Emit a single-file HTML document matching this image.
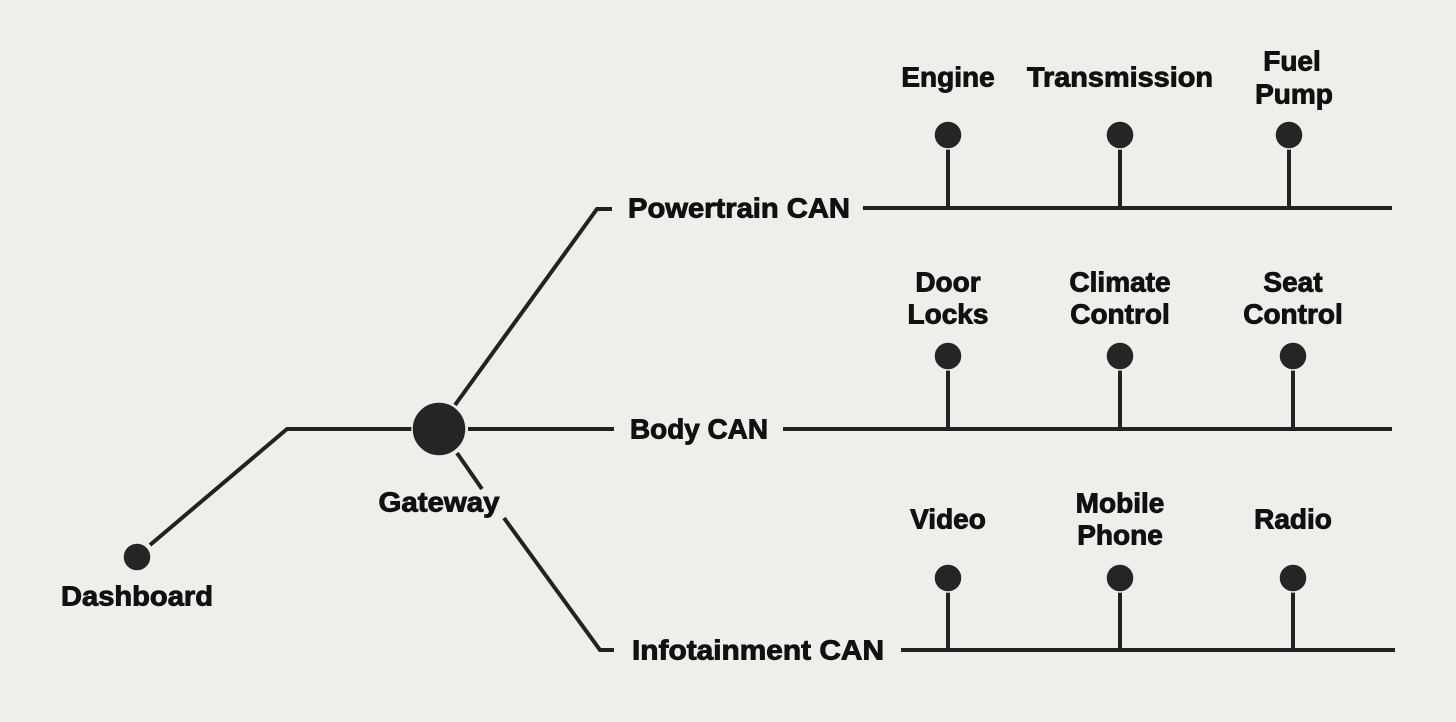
<!DOCTYPE html>
<html><head><style>
html,body{margin:0;padding:0;background:#efeeea;}
svg text{font-family:"Liberation Sans",sans-serif;font-weight:bold;font-size:28px;fill:#111;stroke:#111;stroke-width:0.9;text-anchor:middle;dominant-baseline:central;}
</style></head><body>
<svg width="1456" height="717" viewBox="0 0 1456 717" xmlns="http://www.w3.org/2000/svg">
<rect width="1456" height="717" fill="#efeeea"/>
<g stroke="#222" stroke-width="4" fill="none">
<polyline points="150,545 287,429 439,429"/>
<polyline points="455,405 597,209 612,209"/>
<line x1="468" y1="429" x2="614" y2="429"/>
<line x1="457" y1="453" x2="482" y2="489"/>
<polyline points="504,518 600,650 614,650"/>
<line x1="863" y1="208" x2="1392" y2="208"/>
<line x1="783" y1="429" x2="1392" y2="429"/>
<line x1="901" y1="650" x2="1395" y2="650"/>
<line x1="948" y1="135" x2="948" y2="208"/>
<line x1="1120" y1="135" x2="1120" y2="208"/>
<line x1="1289" y1="135" x2="1289" y2="208"/>
<line x1="948" y1="356" x2="948" y2="429"/>
<line x1="1120" y1="356" x2="1120" y2="429"/>
<line x1="1293" y1="356" x2="1293" y2="429"/>
<line x1="948" y1="578" x2="948" y2="650"/>
<line x1="1120" y1="578" x2="1120" y2="650"/>
<line x1="1293" y1="578" x2="1293" y2="650"/>
</g>
<g fill="#252525" stroke="#efeeea" stroke-width="1.5">
<circle cx="137" cy="557" r="14"/>
<circle cx="439" cy="429" r="27"/>
<circle cx="948" cy="135" r="14"/><circle cx="1120" cy="135" r="14"/><circle cx="1289" cy="135" r="14"/>
<circle cx="948" cy="356" r="14"/><circle cx="1120" cy="356" r="14"/><circle cx="1293" cy="356" r="14"/>
<circle cx="948" cy="578" r="14"/><circle cx="1120" cy="578" r="14"/><circle cx="1293" cy="578" r="14"/>
</g>
<g>
<text x="137" y="596" textLength="152" lengthAdjust="spacingAndGlyphs">Dashboard</text>
<text x="439" y="502" textLength="121" lengthAdjust="spacingAndGlyphs">Gateway</text>
<text x="739" y="208" textLength="222" lengthAdjust="spacingAndGlyphs">Powertrain CAN</text>
<text x="699" y="429" textLength="138" lengthAdjust="spacingAndGlyphs">Body CAN</text>
<text x="758" y="650" textLength="252" lengthAdjust="spacingAndGlyphs">Infotainment CAN</text>
<text x="948" y="77">Engine</text>
<text x="1120" y="77" textLength="186" lengthAdjust="spacingAndGlyphs">Transmission</text>
<text x="1292" y="61">Fuel</text><text x="1294" y="94">Pump</text>
<text x="948" y="282">Door</text><text x="948" y="314">Locks</text>
<text x="1120" y="282">Climate</text><text x="1120" y="314">Control</text>
<text x="1293" y="282">Seat</text><text x="1293" y="314">Control</text>
<text x="948" y="519">Video</text>
<text x="1120" y="503">Mobile</text><text x="1120" y="535">Phone</text>
<text x="1293" y="519">Radio</text>
</g>
</svg>
</body></html>
